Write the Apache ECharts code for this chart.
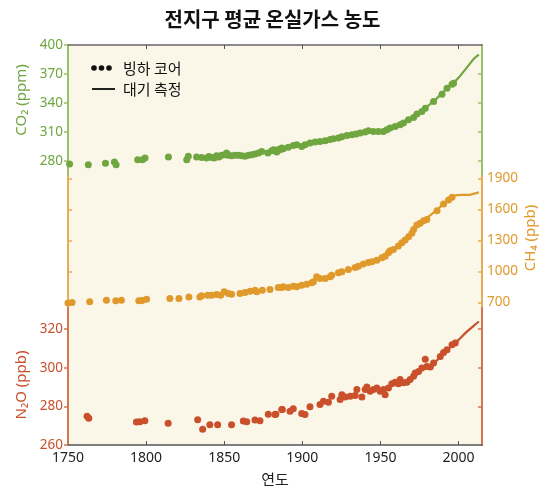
<!DOCTYPE html>
<html>
<head>
<meta charset="utf-8">
<script src="https://cdn.jsdelivr.net/npm/echarts@6/dist/echarts.min.js"></script>
<style>
html, body { margin: 0; padding: 0; background: #fff; }
#chart { width: 545px; height: 488px; }
</style>
</head>
<body>
<div id="chart"></div>
<script>
// values: [year, value]
var co2Core = [[1751,276.6],[1763,275.9],[1774,277.2],[1779.7,278.6],[1780.8,275.9],[1794.6,281],[1797.6,281],[1799.3,282.8],
  [1814.3,283.8],[1826,281],[1827,284.5],[1832.3,283.8],[1835.5,283.4],[1838.7,282.8],[1840.2,284.2],[1842,283.4],[1843.6,282.8],
  [1845.1,285.2],[1846.6,283.8],[1848.3,285.5],[1850.5,286.2],[1851.5,287.9],[1852.6,285.5],[1854.7,285.2],[1856.9,285.5],[1859,285.5],
  [1861.2,285.2],[1863.3,284.5],[1865.5,285.5],[1867.6,286.2],[1869.7,286.9],[1871.9,287.9],[1874,289.6],[1877.9,287.9],[1880.4,290.3],
  [1881.5,291.4],[1883.6,289],[1884.2,291.4],[1885.7,291.4],[1886.8,293.1],[1887.8,292.4],[1891,293.8],[1894.2,295.8],[1896.4,296.6],
  [1899.6,294.8],[1901.7,296.6],[1904.9,298.3],[1908.1,299.3],[1911.3,300],[1914.6,300.7],[1917.8,302],[1919.9,302.8],[1923.1,303.5],
  [1925.3,304.8],[1928.5,306.2],[1931.7,306.9],[1934.4,307.6],[1937,308.6],[1940.2,309.7],[1942.3,311],[1945.5,310.3],[1948.7,310.3],
  [1951.9,310.3],[1954.1,312.1],[1956.2,313.8],[1959.4,315.5],[1962.6,317.2],[1964.7,319],[1967.9,322.4],[1971.2,324.8],[1973.3,328.3],
  [1976.5,331],[1978.7,334.5],[1984,341.4],[1989.4,349],[1992.6,355.2],[1995.8,359.3],[1996.8,360.4]];
var co2Air = [[1958,314.5],[1965,319.5],[1970,324],[1975,330],[1980,336.5],[1985,343],[1990,351],[1995,358.5],[2000,366],[2005,376],[2010,386],[2013,390]];

var ch4Core = [[1750,696],[1752.6,700],[1763.9,706],[1774.6,722],[1780.6,716],[1784.2,722],[1795.3,716],[1797.4,719],[1800.3,732],
  [1815.2,739],[1821,739],[1827.4,754],[1834.4,754],[1835.5,764],[1839.4,771],[1841.9,771],[1845.1,777],[1847.7,771],[1850,803],
  [1852.6,787],[1854.7,780],[1860.1,787],[1863.3,797],[1866.5,809],[1869.7,819],[1870.8,803],[1874.4,819],[1879.3,826],[1884.6,845],
  [1886.8,845],[1887.8,851],[1891,845],[1894.2,858],[1896.4,851],[1899.6,867],[1902.8,877],[1906,890],[1907.1,900],[1909.2,948],
  [1911.3,932],[1914.6,932],[1917.8,948],[1918.8,964],[1923.1,987],[1925.3,996],[1929.5,1019],[1933.8,1039],[1935.9,1051],[1939.1,1071],
  [1942.3,1087],[1944.5,1093],[1947.7,1109],[1950.9,1132],[1953,1148],[1955.1,1180],[1956.2,1199],[1958.3,1213],[1961.5,1245],
  [1963.7,1277],[1965.8,1303],[1968,1335],[1970.1,1368],[1971.2,1406],[1973.3,1448],[1975.4,1465],[1977.6,1490],[1979.7,1503],
  [1986.2,1586],[1990.4,1651],[1993.6,1690],[1995.8,1716]];
var ch4Air = [[1980,1520],[1985,1580],[1990,1648],[1995,1716],[1999,1738],[2003,1740],[2007,1740],[2010,1752],[2013,1764]];

var n2oCore = [[1762.2,274.9],[1763.3,273.8],[1793.8,271.9],[1796,272.1],[1799.2,272.6],[1814.1,271.3],[1833,273.1],[1836.2,268.1],
  [1840.8,270.5],[1845.8,270.5],[1854.7,270.5],[1862.2,272.4],[1864.4,272.1],[1869.7,272.9],[1872.9,272.6],[1878.2,276],[1882.5,275.8],
  [1883,276],[1886.8,278.4],[1887.2,278.4],[1892.1,277.5],[1894.2,278.8],[1899.6,276.3],[1901.7,275.8],[1904.9,279.8],[1911.3,281],
  [1913.5,282.7],[1916.7,282.2],[1918.8,285.3],[1924.2,283.6],[1925.3,286.1],[1927.4,284.9],[1930.6,285.3],[1933.8,285.6],[1934.9,288.7],
  [1938.1,284.9],[1940.2,288.7],[1941.3,290.1],[1943.4,287.8],[1945.5,288.7],[1947.7,289.6],[1949.8,287.8],[1951.9,288.7],[1953,286.1],
  [1955.1,289.6],[1957.3,291.8],[1959.4,292.5],[1961.5,291.8],[1962.6,293.9],[1964.7,292.2],[1966.9,292.5],[1969,293.9],[1971.2,295.6],
  [1972.2,297.3],[1974.4,298.1],[1976.5,299.9],[1978.7,304.5],[1979.7,300.7],[1981.9,300.4],[1984,302.5],[1988.3,305.9],[1990.4,307.9],
  [1992.6,309.3],[1995.8,311.9],[1997.9,312.8]];
var n2oAir = [[1978,299.5],[1985,303],[1990,307],[1995,311],[2000,314.5],[2005,318.5],[2010,322],[2013,324]];

var yearTicks = [1750, 1800, 1850, 1900, 1950, 2000];
var co2Ticks = [280, 310, 340, 370, 400];
var ch4Ticks = [700, 1000, 1300, 1600, 1900];
var n2oTicks = [260, 280, 300, 320];

var FONT = "'Noto Sans', 'Noto Sans CJK KR', sans-serif";
var KFONT = "'Noto Sans CJK KR', sans-serif";
var GREEN = '#6fa63f', ORANGE = '#e0992b', RED = '#c9502b';
var BG = '#faf6e8';

var chart = echarts.init(document.getElementById('chart'));

function plain(v) { return String(v); }

function yAx(grid, pos, min, max, color, lineColor, labels, ticks, inside) {
  return {
    type: 'value', gridIndex: grid, position: pos, min: min, max: max,
    splitLine: { show: false },
    axisLine: { show: true, onZero: false, lineStyle: { color: lineColor, width: 2 } },
    axisTick: { show: true, inside: inside, length: 4, customValues: ticks, lineStyle: { color: lineColor, width: 1.5 } },
    axisLabel: { show: labels.length > 0, customValues: labels, formatter: plain, color: color, fontSize: 13.5, fontFamily: FONT, margin: 5 }
  };
}

var option = {
  backgroundColor: '#fff',
  animation: false,
  title: {
    text: '전지구 평균 온실가스 농도', left: 'center', top: 4,
    textStyle: { fontSize: 20, fontWeight: 'bold', color: '#111', fontFamily: KFONT }
  },
  grid: [
    { left: 68, right: 63, top: 45, height: 131, show: true, backgroundColor: BG, borderWidth: 0 },
    { left: 68, right: 63, top: 176, height: 132, show: true, backgroundColor: BG, borderWidth: 0 },
    { left: 68, right: 63, top: 308, bottom: 43, show: true, backgroundColor: BG, borderWidth: 0 }
  ],
  xAxis: [
    { type: 'value', gridIndex: 0, position: 'top', min: 1750, max: 2015, splitLine: { show: false },
      axisLine: { lineStyle: { color: '#666', width: 1.5 } },
      axisTick: { inside: true, length: 4, customValues: [1800, 1850, 1900, 1950, 2000], lineStyle: { color: '#555' } },
      axisLabel: { show: false } },
    { type: 'value', gridIndex: 1, min: 1750, max: 2015, show: false },
    { type: 'value', gridIndex: 2, position: 'bottom', min: 1750, max: 2015, splitLine: { show: false },
      axisLine: { onZero: false, lineStyle: { color: '#555', width: 1.5 } },
      axisTick: { inside: true, length: 4, customValues: [1800, 1850, 1900, 1950, 2000], lineStyle: { color: '#555' } },
      axisLabel: { customValues: yearTicks, formatter: plain, color: '#222', fontSize: 14, fontFamily: FONT, margin: 6 },
      name: '연도', nameLocation: 'middle', nameGap: 27,
      nameTextStyle: { color: '#222', fontSize: 15, fontFamily: KFONT } }
  ],
  yAxis: [
    yAx(0, 'left', 264.1, 400, GREEN, '#96c26a', co2Ticks, co2Ticks, false),
    yAx(0, 'right', 264.1, 400, GREEN, '#96c26a', [], [280, 310, 340, 370], true),
    yAx(1, 'left', 646.8, 1922.2, ORANGE, '#e8ac55', [], ch4Ticks, true),
    yAx(1, 'right', 646.8, 1922.2, ORANGE, '#e8ac55', ch4Ticks, ch4Ticks, true),
    yAx(2, 'left', 260, 331, RED, '#d4764f', n2oTicks, n2oTicks, false),
    yAx(2, 'right', 260, 331, RED, '#d4764f', [], [280, 300, 320], true)
  ],
  series: [
    { type: 'scatter', xAxisIndex: 0, yAxisIndex: 0, data: co2Core, symbolSize: 7, itemStyle: { color: GREEN, opacity: 1 } },
    { type: 'line', xAxisIndex: 0, yAxisIndex: 0, data: co2Air, showSymbol: false, smooth: 0.3, lineStyle: { color: GREEN, width: 2.2 } },
    { type: 'scatter', xAxisIndex: 1, yAxisIndex: 2, data: ch4Core, symbolSize: 7, itemStyle: { color: ORANGE, opacity: 1 } },
    { type: 'line', xAxisIndex: 1, yAxisIndex: 2, data: ch4Air, showSymbol: false, smooth: 0.3, lineStyle: { color: ORANGE, width: 2.2 } },
    { type: 'scatter', xAxisIndex: 2, yAxisIndex: 4, data: n2oCore, symbolSize: 7, itemStyle: { color: RED, opacity: 1 } },
    { type: 'line', xAxisIndex: 2, yAxisIndex: 4, data: n2oAir, showSymbol: false, smooth: 0.3, lineStyle: { color: RED, width: 2.2 } }
  ],
  graphic: [
    // legend
    { type: 'circle', shape: { cx: 94, cy: 68, r: 2.8 }, style: { fill: '#111' } },
    { type: 'circle', shape: { cx: 101.5, cy: 68, r: 2.8 }, style: { fill: '#111' } },
    { type: 'circle', shape: { cx: 109, cy: 68, r: 2.8 }, style: { fill: '#111' } },
    { type: 'text', x: 123, y: 68, style: { text: '빙하 코어', fill: '#111', fontSize: 15, fontFamily: KFONT, textVerticalAlign: 'middle' } },
    { type: 'line', shape: { x1: 92, y1: 89, x2: 115, y2: 89 }, style: { stroke: '#222', lineWidth: 2 } },
    { type: 'text', x: 123, y: 89, style: { text: '대기 측정', fill: '#111', fontSize: 15, fontFamily: KFONT, textVerticalAlign: 'middle' } },
    // axis names
    { type: 'text', x: 22, y: 100, rotation: Math.PI / 2, style: { text: 'CO₂ (ppm)', fill: GREEN, fontSize: 15, fontFamily: FONT, textAlign: 'center', textVerticalAlign: 'middle' } },
    { type: 'text', x: 531, y: 238, rotation: Math.PI / 2, style: { text: 'CH₄ (ppb)', fill: ORANGE, fontSize: 15, fontFamily: FONT, textAlign: 'center', textVerticalAlign: 'middle' } },
    { type: 'text', x: 22, y: 385, rotation: Math.PI / 2, style: { text: 'N₂O (ppb)', fill: RED, fontSize: 15, fontFamily: FONT, textAlign: 'center', textVerticalAlign: 'middle' } }
  ]
};

chart.setOption(option);
</script>
</body>
</html>
